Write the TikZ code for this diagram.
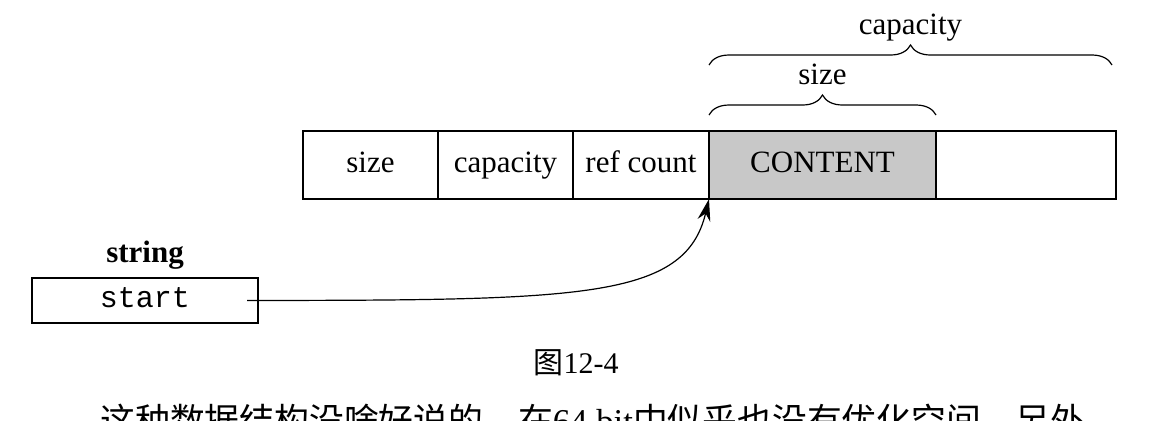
\documentclass[tikz,border=0pt]{standalone}
\usepackage{fontspec}
\setmainfont{Liberation Serif}
\setmonofont{Liberation Mono}
\newfontfamily\cjk{Noto Sans CJK SC}
\usetikzlibrary{positioning,decorations.pathreplacing,arrows.meta}
\definecolor{contentgray}{RGB}{200,200,200}

\begin{document}
\begin{tikzpicture}[x=0.5pt,y=-0.5pt]
    % Define styles
    \tikzstyle{field} = [rectangle, draw=black, line width=0.6pt, minimum height=34pt, outer sep=0pt, inner sep=0pt, text height=11pt, text depth=4pt, text centered, font=\fontsize{15.5}{18}\selectfont]
    \tikzstyle{brace} = [decorate, decoration={brace, amplitude=10pt}, line width=0.6pt]
    \tikzstyle{bracelabel} = [midway, anchor=base, yshift=15.5pt, font=\fontsize{15.5}{18}\selectfont]
    \tikzstyle{arrow} = [line width=0.6pt,->,>={Stealth[length=11pt,width=6.5pt]}]
    \useasboundingbox (0,0) rectangle (1176,420);

    % Header fields
    \node (size) [field, minimum width=67.5pt, anchor=north west] at (303,131) {size};
    \node (capacity) [field, minimum width=67.5pt, right=0pt of size] {capacity};
    \node (refcount) [field, minimum width=68pt, right=0pt of capacity] {ref count};
    \node (content) [field, minimum width=113.5pt, fill=contentgray, right=0pt of refcount] {CONTENT};
    \node (spare) [field, minimum width=90pt, right=0pt of content] {};

    % Braces
    \draw [brace] ([yshift=8pt]content.north west) -- node[bracelabel] {size} ([yshift=8pt]content.north east);
    \draw [brace] ([yshift=33pt]content.north west) -- node[bracelabel] {capacity} ([xshift=-2pt,yshift=33pt]spare.north east);

    % String object
    \node (start) [field, minimum width=113pt, minimum height=22.5pt, font=\ttfamily\fontsize{15}{18}\selectfont] at (145,300.5) {start};
    \node (string) [above=1pt of start, font=\bfseries\fontsize{15.5}{18}\selectfont] {string};

    % Pointer
    \coordinate (ptr) at ([xshift=-5.5pt]start.east);
    \draw [arrow] (ptr) .. controls (580,300) and (685,300) .. (refcount.south east);

    % Caption and text below
    \node (caption) [anchor=base, inner sep=0pt, font=\fontsize{15}{18}\selectfont] at (576,373) {{\cjk 图}12-4};
    \node (para) [anchor=base west, inner sep=0pt, font=\fontsize{17.4}{20}\selectfont] at (100,433) {{\cjk 这种数据结构没啥好说的，在}64 bit{\cjk 中似乎也没有优化空间，另外}};
\end{tikzpicture}
\end{document}
